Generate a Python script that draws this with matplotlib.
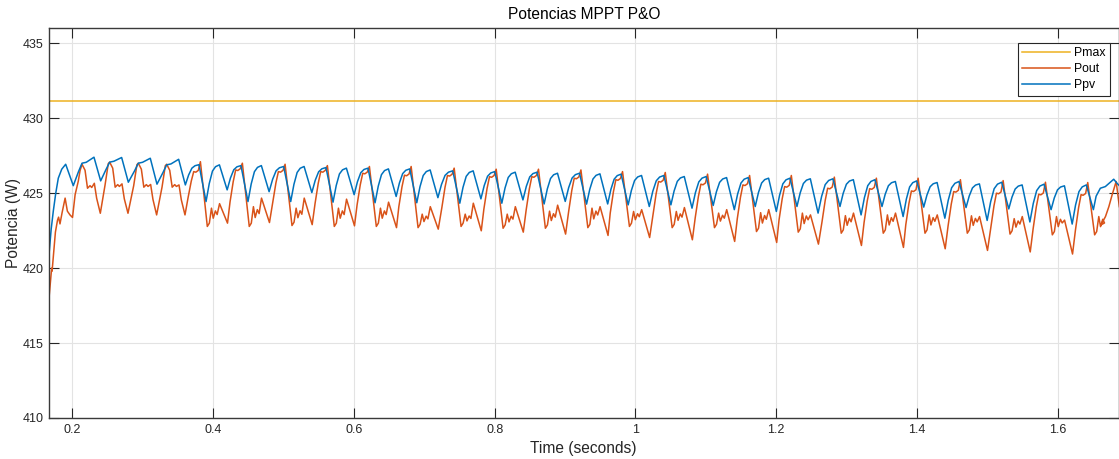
import matplotlib
matplotlib.use("Agg")
import matplotlib.pyplot as plt

# ---------------------------------------------------------------- data
# simulation window shown and the available maximum power
t_window = [0.1669, 1.6863]
p_max = [431.15, 431.15]

# start-up transient before the first P&O spike
t_ppv_start = [0.1669, 0.1700, 0.1730, 0.1765, 0.1801, 0.1850, 0.1906, 0.2014]
ppv_start = [420.90, 422.60, 423.80, 425.00, 426.00, 426.60, 426.93, 425.50]
t_pout_start = [0.1669, 0.1703, 0.1709, 0.1713, 0.1735, 0.1760, 0.1790, 0.1805,
                0.1825, 0.1855, 0.1898, 0.1930, 0.1967, 0.2003, 0.2040, 0.2085, 0.2110]
pout_start = [418.00, 419.80, 420.00, 419.80, 421.00, 422.40, 423.20, 423.40,
              422.95, 423.70, 424.67, 423.80, 423.55, 423.38, 424.90, 425.80, 426.50]

# first P&O cycles (about 40 ms each)
t_early_peak = [0.2138, 0.2531, 0.2938, 0.3341]
pout_early_peak = [426.93, 427.07, 427.00, 426.93]
pout_early_shelf = [425.33, 425.40, 425.40, 425.40]
pout_early_bump = [425.66, 425.62, 425.58, 425.55]
pout_early_dip = [423.66, 423.66, 423.55, 423.55]
ppv_early_knee = [427.00, 427.07, 427.00, 426.89]
ppv_early_top = [427.40, 427.38, 427.33, 427.26]
ppv_early_dip = [425.82, 425.73, 425.60, 425.55]

# steady oscillation: one Pout spike every ~60 ms, two Ppv ripples in between
t_peak = [0.3820, 0.4416, 0.5023, 0.5624, 0.6221, 0.6814, 0.7425, 0.8022,
          0.8623, 0.9226, 0.9817, 1.0424, 1.1025, 1.1622, 1.2215, 1.2826,
          1.3423, 1.4016, 1.4617, 1.5224, 1.5825, 1.6426]
pout_peak = [427.10, 427.00, 426.93, 426.84, 426.78, 426.78, 426.67, 426.60,
             426.60, 426.55, 426.44, 426.38, 426.27, 426.18, 426.18, 426.07,
             426.00, 426.00, 425.90, 425.84, 425.73, 425.71]
pout_shelf = [426.44, 426.55, 426.44, 426.44, 426.33, 426.20, 426.18, 426.10,
              426.10, 426.00, 425.90, 425.78, 425.60, 425.55, 425.44, 425.33,
              425.30, 425.15, 425.11, 425.00, 424.93, 424.90]
pout_dip1 = [422.78, 422.78, 422.84, 422.78, 422.78, 422.70, 422.78, 422.66,
             422.66, 422.70, 422.78, 422.70, 422.70, 422.44, 422.40, 422.33,
             422.33, 422.33, 422.33, 422.27, 422.22, 422.22]
pout_bump1 = [424.00, 424.10, 424.00, 424.00, 424.00, 423.60, 423.60, 423.60,
              423.80, 424.00, 423.78, 423.78, 423.67, 423.70, 423.67, 423.50,
              423.55, 423.55, 423.49, 423.30, 423.44, 423.44]
pout_bump2 = [424.30, 424.67, 424.67, 424.60, 424.40, 424.10, 424.33, 424.10,
              424.20, 424.10, 423.90, 424.04, 423.90, 423.90, 423.55, 423.67,
              423.67, 423.55, 423.44, 423.44, 423.20]
pout_dip2 = [423.00, 423.04, 422.90, 422.82, 422.70, 422.60, 422.49, 422.40,
             422.27, 422.18, 422.04, 421.89, 421.78, 421.71, 421.60, 421.51,
             421.38, 421.29, 421.18, 421.08, 420.94]
ppv_top = [426.90, 426.84, 426.78, 426.71, 426.67, 426.62, 426.49, 426.44,
           426.40, 426.33, 426.27, 426.18, 426.11, 426.04, 426.00, 425.96,
           425.90, 425.82, 425.78, 425.73, 425.60, 425.55]
ppv_dipA = [424.44, 424.44, 424.44, 424.40, 424.36, 424.36, 424.33, 424.33,
            424.28, 424.27, 424.22, 424.22, 424.18, 424.11, 424.11, 424.11,
            424.11, 424.07, 424.04, 423.95, 423.90, 423.90]
ppv_mid = [426.89, 426.84, 426.78, 426.67, 426.62, 426.55, 426.49, 426.40,
           426.33, 426.29, 426.18, 426.11, 426.04, 426.00, 425.96, 425.90,
           425.78, 425.71, 425.62, 425.55, 425.49]
ppv_dipB = [425.22, 425.10, 425.04, 424.90, 424.78, 424.70, 424.62, 424.55,
            424.45, 424.28, 424.11, 424.00, 423.90, 423.78, 423.67, 423.55,
            423.44, 423.33, 423.18, 423.08, 422.94]

# last partial cycle at the end of the run
t_ppv_tail = [1.6545, 1.6605, 1.6676, 1.6795, 1.6842, 1.6875]
ppv_tail = [424.80, 425.33, 425.44, 425.93, 425.66, 425.50]
t_pout_tail = [1.6615, 1.6678, 1.6726, 1.6773, 1.6830, 1.6875]
pout_tail = [422.89, 423.44, 424.10, 424.90, 425.78, 424.10]

x_ticks = [0.2, 0.4, 0.6, 0.8, 1.0, 1.2, 1.4, 1.6]
x_tick_labels = ["0.2", "0.4", "0.6", "0.8", "1", "1.2", "1.4", "1.6"]
y_ticks = [410, 415, 420, 425, 430, 435]

# ------------------------------------------------- ripple shape helpers
RISE_T = [0.24, 0.48, 0.71]   # Ppv recovers quickly, then levels off
RISE_V = [0.49, 0.83, 0.95]


def rise(t, v, t_hi, v_hi):
    t_lo, v_lo = t[-1], v[-1]
    for ft, fv in zip(RISE_T, RISE_V):
        t.append(t_lo + ft * (t_hi - t_lo))
        v.append(v_lo + fv * (v_hi - v_lo))
    t.append(t_hi)
    v.append(v_hi)


def pout_ramp_to_peak(t, v, q, shelf, peak):
    lo = v[-1]
    t += [q - 0.0175, q - 0.0130, q - 0.0095, q - 0.0065, q - 0.0030, q]
    v += [lo + 0.40 * (shelf - lo), lo + 0.78 * (shelf - lo), shelf,
          shelf - 0.04, shelf + 0.08, peak]


def pout_after_peak(t, v, p, d1, b1):
    t += [p + 0.0098, p + 0.0127, p + 0.0157, p + 0.0182, p + 0.0213, p + 0.0238]
    v += [d1, d1 + 0.22, b1, d1 + 0.45 * (b1 - d1), d1 + 0.85 * (b1 - d1),
          d1 + 0.65 * (b1 - d1)]


# ---------------------------------------------------------- Ppv series
t_pv, v_pv = list(t_ppv_start), list(ppv_start)
for j, e in enumerate(t_early_peak):
    dip = v_pv[-1]
    knee = ppv_early_knee[j]
    t_pv += [e - 0.0053, e, e + 0.006, e + 0.017, e + 0.0265]
    v_pv += [dip + 0.6 * (knee - dip), knee, knee + 0.06,
             ppv_early_top[j], ppv_early_dip[j]]
rise(t_pv, v_pv, t_peak[0] - 0.002, ppv_top[0])
for k in range(len(t_peak) - 1):
    p, q = t_peak[k], t_peak[k + 1]
    t_pv.append(p + 0.008)
    v_pv.append(ppv_dipA[k])
    rise(t_pv, v_pv, p + 0.027, ppv_mid[k])
    t_pv.append(p + 0.038)
    v_pv.append(ppv_dipB[k])
    rise(t_pv, v_pv, q - 0.002, ppv_top[k + 1])
t_pv.append(t_peak[-1] + 0.008)
v_pv.append(ppv_dipA[-1])
t_pv += t_ppv_tail
v_pv += ppv_tail

# --------------------------------------------------------- Pout series
t_po, v_po = list(t_pout_start), list(pout_start)
for j, e in enumerate(t_early_peak):
    pk = pout_early_peak[j]
    sh = pout_early_shelf[j]
    if j > 0:
        lo = v_po[-1]
        t_po += [e - 0.0066, e - 0.0020]
        v_po += [lo + 0.55 * (pk - lo), pk - 0.10]
    t_po += [e, e + 0.0043, e + 0.0078, e + 0.0114, e + 0.0138, e + 0.0175,
             e + 0.0208, e + 0.0260]
    v_po += [pk, pk - 0.40, sh, sh + 0.17, sh + 0.05, pout_early_bump[j],
             pout_early_bump[j] - 1.0, pout_early_dip[j]]
pout_ramp_to_peak(t_po, v_po, t_peak[0], pout_shelf[0], pout_peak[0])
for k in range(len(t_peak) - 1):
    p, q = t_peak[k], t_peak[k + 1]
    pout_after_peak(t_po, v_po, p, pout_dip1[k], pout_bump1[k])
    t_po += [p + 0.0272, p + 0.0385]
    v_po += [pout_bump2[k], pout_dip2[k]]
    pout_ramp_to_peak(t_po, v_po, q, pout_shelf[k + 1], pout_peak[k + 1])
pout_after_peak(t_po, v_po, t_peak[-1], pout_dip1[-1], pout_bump1[-1])
t_po += t_pout_tail
v_po += pout_tail

# ---------------------------------------------------------------- figure
plt.rcParams["font.family"] = ["Liberation Sans", "DejaVu Sans"]
W, H = 1119, 459
fig = plt.figure(figsize=(W / 100, H / 100), dpi=100)
ax = fig.add_axes([49 / W, 1 - 418 / H, (1118.5 - 49) / W, (418 - 28.3) / H])

c_max, c_out, c_pv = "#EDB120", "#D95319", "#0072BD"
ax.plot(t_window, p_max, color=c_max, lw=1.1, label="Pmax")
ax.plot(t_po, v_po, color=c_out, lw=1.1, label="Pout")
ax.plot(t_pv, v_pv, color=c_pv, lw=1.1, label="Ppv")

ax.set_xlim(t_window)
ax.set_ylim(410, 436)
ax.set_xticks(x_ticks, x_tick_labels)
ax.set_yticks(y_ticks)

dark = "#262626"
ax.grid(True, color="#e3e3e3", linewidth=0.8)
ax.set_axisbelow(True)
for s in ax.spines.values():
    s.set_color("#3a3a3a")
    s.set_linewidth(1.0)
ax.tick_params(direction="in", length=7.5, width=0.8, top=True, right=True,
               colors=dark, labelsize=9, pad=4)

ax.set_title("Potencias MPPT P&O", fontsize=11.2, pad=7, color="black")
ax.set_xlabel("Time (seconds)", fontsize=11.2, color=dark, labelpad=4)
ax.set_ylabel("Potencia (W)", fontsize=11.2, color=dark, labelpad=1)

leg = ax.legend(loc="upper right", bbox_to_anchor=(0.992, 0.962),
                borderaxespad=0, fontsize=8.8, handlelength=3.9,
                handletextpad=0.35, labelspacing=0.33, borderpad=0.35,
                fancybox=False, framealpha=1)
leg.get_frame().set_edgecolor(dark)
leg.get_frame().set_linewidth(0.8)

fig.savefig("out.png", dpi=100)
